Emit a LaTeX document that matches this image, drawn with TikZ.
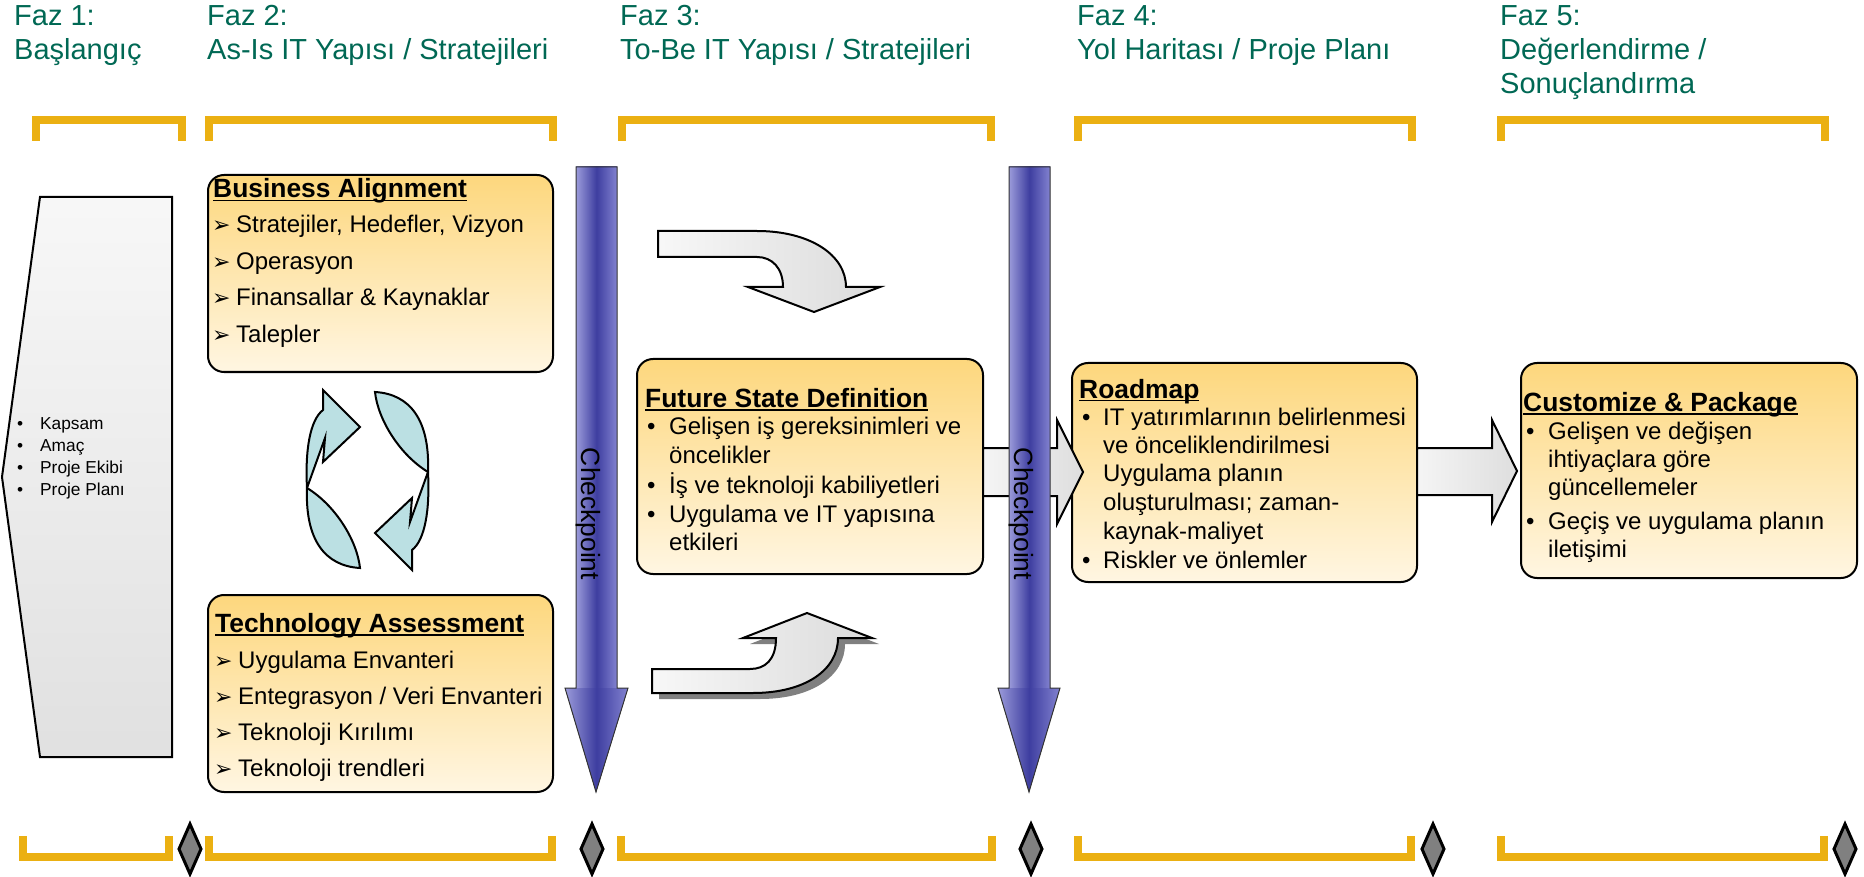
\documentclass[tikz,border=0pt]{standalone}
\usepackage{fontspec}
\setmainfont{Liberation Sans}
\newfontfamily\dejavu{DejaVu Sans}
\usetikzlibrary{calc}
\definecolor{hdr}{RGB}{0,104,84}
\definecolor{brk}{RGB}{235,176,18}
\definecolor{boxtop}{RGB}{253,215,125}
\definecolor{boxbot}{RGB}{255,246,226}
\definecolor{cyc}{RGB}{187,224,227}
\definecolor{cpl}{RGB}{155,155,218}
\definecolor{cpd}{RGB}{62,62,160}
\definecolor{cpr}{RGB}{130,130,208}
\newcommand{\ultxt}[1]{\setbox0\hbox{#1}\rlap{\raisebox{-3.5pt}{\rule{\wd0}{1.8pt}}}\box0}
\tikzset{
  hdrtext/.style={text=hdr, font=\fontsize{29}{34}\selectfont, anchor=base west, inner sep=0},
  topbrk/.style={draw=brk, line width=8pt, line join=miter},
  card/.style={draw=black, line width=2pt, rounded corners=16pt, top color=boxtop, bottom color=boxbot, anchor=north west, inner sep=0, outer sep=0},
  cardtitle/.style={font=\fontsize{26.4}{30}\selectfont\bfseries, anchor=base west, inner sep=0},
  itemtext/.style={font=\fontsize{24}{28}\selectfont, anchor=base west, inner sep=0},
  arrowbul/.style={font=\dejavu\fontsize{22}{24}\selectfont, anchor=base west, inner sep=0},
  smalltext/.style={font=\fontsize{17.3}{21}\selectfont, anchor=base west, inner sep=0},
  cycarrow/.style={draw=black, line width=2pt, fill=cyc, line join=miter},
  curvearrow/.style={draw=black, line width=2pt, left color=white!97!black, right color=black!14},
  blockarrow/.style={draw=black, line width=2pt, left color=white!96!black, right color=black!13},
  cpfill/.style={left color=cpl, right color=cpr, middle color=cpd},
  cpline/.style={draw=black!80, line width=1pt, line join=miter},
  cptext/.style={font=\fontsize{26.4}{30}\selectfont, rotate=-90, inner sep=0},
  diam/.style={draw=black, line width=3pt, fill=black!50, line join=miter}
}
\begin{document}
\begin{tikzpicture}[x=1pt,y=-1pt]
\useasboundingbox (0,0) rectangle (1864,877);

% headers
\node[hdrtext] (h1a) at (14,26) {Faz 1:};
\node[hdrtext] (h1b) at (14,60) {Başlangıç};
\node[hdrtext] (h2a) at (207,26) {Faz 2:};
\node[hdrtext] (h2b) at (207,60) {As-Is IT Yapısı / Stratejileri};
\node[hdrtext] (h3a) at (620,26) {Faz 3:};
\node[hdrtext] (h3b) at (620,60) {To-Be IT Yapısı / Stratejileri};
\node[hdrtext] (h4a) at (1077,26) {Faz 4:};
\node[hdrtext] (h4b) at (1077,60) {Yol Haritası / Proje Planı};
\node[hdrtext] (h5a) at (1500,26) {Faz 5:};
\node[hdrtext] (h5b) at (1500,60) {Değerlendirme /};
\node[hdrtext] (h5c) at (1500,94) {Sonuçlandırma};

% top brackets
\foreach \a/\b in {32/186, 205/557, 618/995, 1074/1416, 1497/1829}
  \draw[topbrk] (\a+4,141) -- (\a+4,120) -- (\b-4,120) -- (\b-4,141);

% phase 1 shape
\draw[draw=black, line width=2pt, top color=white!97!black, bottom color=black!12, line join=miter]
  (40,197) -- (172,197) -- (172,757) -- (40,757) -- (2,477) -- cycle;
\node[smalltext] (k1b) at (17,429) {•};
\node[smalltext] (k1) at (40,429) {Kapsam};
\node[smalltext] (k2b) at (17,451) {•};
\node[smalltext] (k2) at (40,451) {Amaç};
\node[smalltext] (k3b) at (17,473) {•};
\node[smalltext] (k3) at (40,473) {Proje Ekibi};
\node[smalltext] (k4b) at (17,495) {•};
\node[smalltext] (k4) at (40,495) {Proje Planı};

% phase 2 boxes
\node[card, minimum width=345pt, minimum height=197pt] (ba) at (208,175) {};
\node[cardtitle] (baT) at (213,198) {\ultxt{Business Alignment}};
\node[arrowbul] (bam1) at (212,233) {➢};
\node[itemtext] (ba1) at (236,233) {Stratejiler, Hedefler, Vizyon};
\node[arrowbul] (bam2) at (212,270) {➢};
\node[itemtext] (ba2) at (236,270) {Operasyon};
\node[arrowbul] (bam3) at (212,306) {➢};
\node[itemtext] (ba3) at (236,306) {Finansallar \& Kaynaklar};
\node[arrowbul] (bam4) at (212,343) {➢};
\node[itemtext] (ba4) at (236,343) {Talepler};

\node[card, minimum width=345pt, minimum height=197pt] (ta) at (208,595) {};
\node[cardtitle] (taT) at (215,632) {\ultxt{Technology Assessment}};
\node[arrowbul] (tam1) at (214,668) {➢};
\node[itemtext] (ta1) at (238,668) {Uygulama Envanteri};
\node[arrowbul] (tam2) at (214,704) {➢};
\node[itemtext] (ta2) at (238,704) {Entegrasyon / Veri Envanteri};
\node[arrowbul] (tam3) at (214,740) {➢};
\node[itemtext] (ta3) at (238,740) {Teknoloji Kırılımı};
\node[arrowbul] (tam4) at (214,776) {➢};
\node[itemtext] (ta4) at (238,776) {Teknoloji trendleri};

% cycle arrows
\draw[cycarrow] (307,488) .. controls (305,450) and (310,420) .. (323,410) -- (323,390) -- (360,427) -- (323,462) -- (325,438) -- cycle;
\draw[cycarrow] (307,488) .. controls (305,540) and (325,566) .. (360,568) .. controls (357,540) and (335,505) .. (307,488) -- cycle;
\begin{scope}[rotate around={180:(367.5,480)}]
\draw[cycarrow] (307,488) .. controls (305,450) and (310,420) .. (323,410) -- (323,390) -- (360,427) -- (323,462) -- (325,438) -- cycle;
\draw[cycarrow] (307,488) .. controls (305,540) and (325,566) .. (360,568) .. controls (357,540) and (335,505) .. (307,488) -- cycle;
\end{scope}

% phase 3 curved arrows
\draw[curvearrow] (658,231) -- (757,231) .. controls (810,231) and (846,255) .. (846,287) -- (880,287) -- (814,312) -- (748,287) -- (783,287) .. controls (783,268) and (772,257) .. (757,257) -- (658,257) -- cycle;
\path[fill=black!50, shift={(7,6)}] (652,669) -- (750,669) .. controls (765,669) and (776,660) .. (776,638) -- (743,638) -- (807,613) -- (872,638) -- (838,638) .. controls (838,670) and (805,693) .. (753,693) -- (652,693) -- cycle;
\draw[curvearrow] (652,669) -- (750,669) .. controls (765,669) and (776,660) .. (776,638) -- (743,638) -- (807,613) -- (872,638) -- (838,638) .. controls (838,670) and (805,693) .. (753,693) -- (652,693) -- cycle;

% cards of phases 3-5
\node[card, minimum width=346pt, minimum height=215pt] (fsd) at (637,359) {};
\node[card, minimum width=345pt, minimum height=219pt] (road) at (1072,363) {};
\node[card, minimum width=336pt, minimum height=215pt] (cust) at (1521,363) {};

% block arrows
\draw[blockarrow] (983,448) -- (1057,448) -- (1057,420) -- (1083,472) -- (1057,524) -- (1057,496) -- (983,496) -- cycle;
\draw[blockarrow] (1417,448) -- (1492,448) -- (1492,420) -- (1517,471) -- (1492,522) -- (1492,495) -- (1417,495) -- cycle;

% checkpoints
\fill[cpfill] (576,167) rectangle (617,689);
\fill[cpfill] (565,688) -- (628,688) -- (596,792) -- cycle;
\draw[cpline] (576,167) -- (617,167) -- (617,688) -- (628,688) -- (596,792) -- (565,688) -- (576,688) -- cycle;
\node[cptext] (cp1) at (588,514) {Checkpoint};
\fill[cpfill] (1009,167) rectangle (1050,689);
\fill[cpfill] (998,688) -- (1060,688) -- (1029,792) -- cycle;
\draw[cpline] (1009,167) -- (1050,167) -- (1050,688) -- (1060,688) -- (1029,792) -- (998,688) -- (1009,688) -- cycle;
\node[cptext] (cp2) at (1021,514) {Checkpoint};

% card texts
\node[cardtitle] (fsdT) at (645,407) {\ultxt{Future State Definition}};
\node[itemtext] (fsdb1) at (647,434) {•};
\node[itemtext] (fsd1) at (669,434) {Gelişen iş gereksinimleri ve};
\node[itemtext] (fsd2) at (669,463) {öncelikler};
\node[itemtext] (fsdb2) at (647,493) {•};
\node[itemtext] (fsd3) at (669,493) {İş ve teknoloji kabiliyetleri};
\node[itemtext] (fsdb3) at (647,522) {•};
\node[itemtext] (fsd4) at (669,522) {Uygulama ve IT yapısına};
\node[itemtext] (fsd5) at (669,550) {etkileri};

\node[cardtitle] (roadT) at (1079,398) {\ultxt{Roadmap}};
\node[itemtext] (rdb1) at (1082,425) {•};
\node[itemtext] (rd1) at (1103,425) {IT yatırımlarının belirlenmesi};
\node[itemtext] (rd2) at (1103,453) {ve önceliklendirilmesi};
\node[itemtext] (rd3) at (1103,481) {Uygulama planın};
\node[itemtext] (rd4) at (1103,510) {oluşturulması; zaman-};
\node[itemtext] (rd5) at (1103,539) {kaynak-maliyet};
\node[itemtext] (rdb2) at (1082,568) {•};
\node[itemtext] (rd6) at (1103,568) {Riskler ve önlemler};

\node[cardtitle] (custT) at (1523,411) {\ultxt{Customize \& Package}};
\node[itemtext] (cub1) at (1526,439) {•};
\node[itemtext] (cu1) at (1548,439) {Gelişen ve değişen};
\node[itemtext] (cu2) at (1548,467) {ihtiyaçlara göre};
\node[itemtext] (cu3) at (1548,495) {güncellemeler};
\node[itemtext] (cub2) at (1526,529) {•};
\node[itemtext] (cu4) at (1548,529) {Geçiş ve uygulama planın};
\node[itemtext] (cu5) at (1548,557) {iletişimi};

% bottom brackets
\foreach \a/\b in {19/173, 205/556, 617/996, 1074/1415, 1497/1828}
  \draw[topbrk] (\a+4,836) -- (\a+4,857) -- (\b-4,857) -- (\b-4,836);

% milestones
\foreach \x in {190, 592, 1031, 1433, 1845}
  \draw[diam] (\x,824) -- (\x+11,849) -- (\x,874) -- (\x-11,849) -- cycle;
\end{tikzpicture}
\end{document}
